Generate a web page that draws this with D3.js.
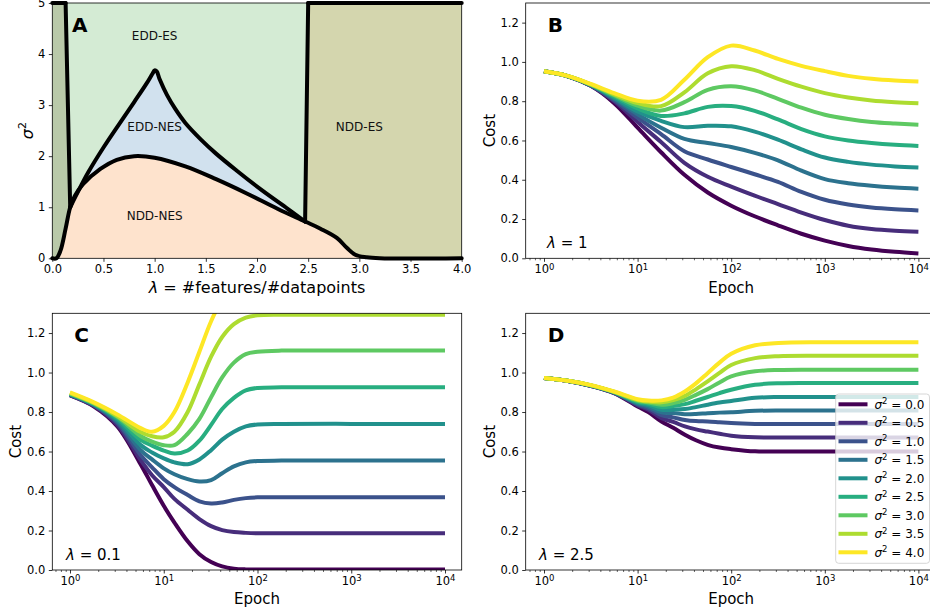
<!DOCTYPE html>
<html>
<head>
<meta charset="utf-8">
<script src="https://cdn.jsdelivr.net/npm/d3@7"></script>
<style>
  body { margin: 0; background: #fff; }
  svg { display: block; }
</style>
</head>
<body>
<svg id="fig" width="930" height="613" font-family="DejaVu Sans, sans-serif"></svg>
<script>
// ---------------- data ----------------
const sigma2 = [0, 0.5, 1, 1.5, 2, 2.5, 3, 3.5, 4];

// panel A: phase boundaries (lambda, sigma^2)
const lowerLam = [0, 0.04, 0.08, 0.13, 0.175, 0.22, 0.3, 0.47, 0.63, 0.8, 1.0, 1.3, 1.6, 1.9, 2.2, 2.47, 2.62, 2.78, 2.88, 2.96, 3.07, 3.2, 4.0];
const lowerSig = [0, 0, 0.15, 0.58, 1.0, 1.22, 1.45, 1.75, 1.93, 2.0, 1.97, 1.8, 1.55, 1.27, 0.97, 0.72, 0.58, 0.4, 0.2, 0.07, 0.02, 0, 0];
const upperLam = [0.175, 0.25, 0.35, 0.5, 0.65, 0.8, 0.92, 0.98, 1.0, 1.02, 1.05, 1.12, 1.2, 1.3, 1.45, 1.6, 1.8, 2.05, 2.3, 2.47];
const upperSig = [1.0, 1.3, 1.68, 2.17, 2.62, 3.06, 3.42, 3.62, 3.68, 3.66, 3.5, 3.2, 2.93, 2.65, 2.33, 2.05, 1.72, 1.33, 0.97, 0.72];
const leftLam = [0.13, 0.175], leftSig = [5, 1.0];
const rightLam = [2.47, 2.5], rightSig = [0.72, 5];
const regionNames = ['EDD-ES', 'EDD-NES', 'NDD-NES', 'NDD-ES'];
const regionLam = [1.0, 1.0, 1.0, 3.0];
const regionSig = [4.35, 2.58, 0.83, 2.58];

// panel B: lambda = 1
const epochsB = [1, 1.78, 3.16, 5.62, 10, 17.8, 31.6, 56.2, 100, 178, 316, 562, 1000, 1780, 3160, 5620, 10000];
const costB = [
  [0.952, 0.927, 0.878, 0.79, 0.665, 0.54, 0.425, 0.335, 0.268, 0.214, 0.168, 0.125, 0.09, 0.063, 0.045, 0.033, 0.025],
  [0.952, 0.928, 0.879, 0.80, 0.694, 0.592, 0.486, 0.415, 0.365, 0.319, 0.276, 0.233, 0.195, 0.166, 0.149, 0.14, 0.135],
  [0.952, 0.928, 0.880, 0.806, 0.716, 0.632, 0.545, 0.503, 0.465, 0.428, 0.389, 0.338, 0.298, 0.274, 0.259, 0.25, 0.244],
  [0.952, 0.928, 0.881, 0.812, 0.733, 0.665, 0.608, 0.587, 0.567, 0.537, 0.499, 0.446, 0.403, 0.382, 0.369, 0.36, 0.354],
  [0.952, 0.928, 0.883, 0.818, 0.748, 0.70, 0.668, 0.675, 0.672, 0.645, 0.604, 0.555, 0.513, 0.491, 0.477, 0.468, 0.462],
  [0.952, 0.928, 0.884, 0.824, 0.763, 0.725, 0.738, 0.771, 0.775, 0.751, 0.707, 0.658, 0.621, 0.60, 0.587, 0.578, 0.572],
  [0.952, 0.929, 0.885, 0.83, 0.777, 0.752, 0.795, 0.858, 0.876, 0.855, 0.812, 0.767, 0.731, 0.709, 0.694, 0.686, 0.68],
  [0.952, 0.929, 0.886, 0.835, 0.79, 0.775, 0.845, 0.942, 0.978, 0.958, 0.914, 0.874, 0.841, 0.819, 0.804, 0.795, 0.789],
  [0.952, 0.929, 0.888, 0.841, 0.802, 0.807, 0.909, 1.024, 1.083, 1.058, 1.015, 0.98, 0.953, 0.929, 0.914, 0.905, 0.90]
];

// panel C: lambda = 0.1
const epochsC = [1, 1.8, 3.2, 5.6, 7.5, 10, 13, 18, 24, 32, 42, 56, 75, 100, 180, 1000, 10000];
const costC = [
  [0.884, 0.828, 0.727, 0.54, 0.43, 0.325, 0.24, 0.145, 0.08, 0.04, 0.018, 0.007, 0.003, 0.002, 0.002, 0.002, 0.002],
  [0.886, 0.831, 0.735, 0.56, 0.48, 0.42, 0.36, 0.305, 0.258, 0.222, 0.202, 0.192, 0.188, 0.186, 0.186, 0.186, 0.186],
  [0.887, 0.834, 0.745, 0.585, 0.52, 0.46, 0.42, 0.38, 0.348, 0.337, 0.342, 0.355, 0.364, 0.368, 0.369, 0.369, 0.369],
  [0.888, 0.836, 0.752, 0.61, 0.56, 0.515, 0.485, 0.46, 0.448, 0.455, 0.49, 0.525, 0.545, 0.552, 0.554, 0.554, 0.554],
  [0.89, 0.839, 0.76, 0.635, 0.595, 0.565, 0.545, 0.536, 0.56, 0.607, 0.66, 0.70, 0.727, 0.737, 0.74, 0.74, 0.74],
  [0.892, 0.841, 0.768, 0.66, 0.63, 0.605, 0.59, 0.605, 0.655, 0.735, 0.815, 0.872, 0.91, 0.922, 0.925, 0.925, 0.925],
  [0.894, 0.843, 0.775, 0.68, 0.65, 0.632, 0.632, 0.69, 0.765, 0.875, 0.975, 1.05, 1.093, 1.105, 1.111, 1.111, 1.111],
  [0.896, 0.846, 0.78, 0.70, 0.677, 0.672, 0.70, 0.80, 0.94, 1.08, 1.18, 1.245, 1.278, 1.29, 1.293, 1.293, 1.293],
  [0.899, 0.849, 0.788, 0.72, 0.70, 0.73, 0.80, 0.95, 1.105, 1.26, 1.37, 1.44, 1.47, 1.48, 1.48, 1.48, 1.48]
];

// panel D: lambda = 2.5
const epochsD = [1, 1.8, 3.2, 5.6, 10, 13, 18, 24, 32, 42, 56, 75, 100, 180, 320, 1000, 10000];
const costD = [
  [0.972, 0.957, 0.932, 0.896, 0.828, 0.80, 0.752, 0.72, 0.685, 0.657, 0.634, 0.62, 0.612, 0.601, 0.60, 0.60, 0.60],
  [0.972, 0.957, 0.932, 0.897, 0.834, 0.812, 0.769, 0.75, 0.727, 0.712, 0.701, 0.69, 0.68, 0.672, 0.671, 0.671, 0.671],
  [0.972, 0.957, 0.933, 0.898, 0.839, 0.82, 0.784, 0.773, 0.76, 0.754, 0.752, 0.748, 0.744, 0.74, 0.739, 0.739, 0.739],
  [0.972, 0.957, 0.933, 0.899, 0.843, 0.828, 0.798, 0.795, 0.789, 0.79, 0.794, 0.797, 0.799, 0.806, 0.808, 0.808, 0.808],
  [0.972, 0.958, 0.934, 0.90, 0.848, 0.835, 0.811, 0.812, 0.815, 0.825, 0.837, 0.848, 0.856, 0.872, 0.876, 0.876, 0.876],
  [0.972, 0.958, 0.934, 0.901, 0.852, 0.842, 0.825, 0.83, 0.84, 0.857, 0.876, 0.896, 0.913, 0.938, 0.946, 0.947, 0.947],
  [0.972, 0.958, 0.935, 0.902, 0.857, 0.848, 0.837, 0.845, 0.862, 0.887, 0.916, 0.95, 0.98, 1.006, 1.013, 1.014, 1.014],
  [0.972, 0.958, 0.935, 0.903, 0.861, 0.853, 0.849, 0.86, 0.882, 0.915, 0.955, 0.998, 1.038, 1.073, 1.083, 1.085, 1.085],
  [0.972, 0.958, 0.936, 0.904, 0.865, 0.858, 0.859, 0.873, 0.904, 0.945, 0.997, 1.05, 1.095, 1.138, 1.15, 1.153, 1.153]
];

const decades = [1, 10, 100, 1000, 10000];
const costTicks = [0, 0.2, 0.4, 0.6, 0.8, 1.0, 1.2];
const lamTicks = [0, 0.5, 1, 1.5, 2, 2.5, 3, 3.5, 4];
const sigTicks = [0, 1, 2, 3, 4, 5];

// ---------------- layout ----------------
const svg = d3.select('#fig');
const boxAC = { left: 52.3, right: 461.7 };
const boxBD = { left: 525.7, right: 936.6 };
const rowTop = { top: 3, bottom: 258.3 };
const rowBot = { top: 313.3, bottom: 570 };
const colors = sigma2.map((s, i) => d3.interpolateViridis(i / (sigma2.length - 1)));
const smooth = d3.curveCatmullRom.alpha(0.5);
const tickFont = 11.5;

function styleAxis(g) {
  g.attr('font-family', null).attr('font-size', null);
  g.select('.domain').remove();
  g.selectAll('.tick line').attr('stroke', '#000').attr('stroke-width', 0.8);
  g.selectAll('.tick text').attr('fill', '#000').attr('font-size', tickFont);
}

function spines(box, row) {
  svg.append('rect')
    .attr('x', box.left).attr('y', row.top)
    .attr('width', box.right - box.left).attr('height', row.bottom - row.top)
    .attr('fill', 'none').attr('stroke', '#000').attr('stroke-width', 0.8);
}

function panelLetter(txt, x, y) {
  svg.append('text').attr('x', x).attr('y', y)
    .attr('font-size', 20).attr('font-weight', 'bold').text(txt);
}

// ---------------- panel A ----------------
(function drawPhase() {
  const x = d3.scaleLinear().domain([0, 4]).range([boxAC.left, boxAC.right]);
  const y = d3.scaleLinear().domain([0, 5]).range([rowTop.bottom, rowTop.top]);

  svg.append('clipPath').attr('id', 'clipA').append('rect')
    .attr('x', boxAC.left).attr('y', rowTop.top)
    .attr('width', boxAC.right - boxAC.left).attr('height', rowTop.bottom - rowTop.top);
  const g = svg.append('g');
  const fills = g.append('g').attr('clip-path', 'url(#clipA)');

  const lower = lowerLam.map((l, i) => [l, lowerSig[i]]);
  const upper = upperLam.map((l, i) => [l, upperSig[i]]);
  const lineGen = d3.line().x(d => x(d[0])).y(d => y(d[1])).curve(smooth);
  const areaGen = d3.area().x(d => x(d[0])).y0(y(0)).y1(d => y(d[1])).curve(smooth);
  const straight = d3.line().x(d => x(d[0])).y(d => y(d[1]));
  const poly = pts => straight(pts) + 'Z';

  // EDD-ES background
  fills.append('path').attr('d', poly([[0, 0], [4, 0], [4, 5], [0, 5]])).attr('fill', '#d4ebd4');
  // strip left of the left boundary
  fills.append('path').attr('d', poly([[0, 0], [leftLam[1], 0], [leftLam[1], leftSig[1]], [leftLam[0], leftSig[0]], [0, 5]]))
    .attr('fill', '#b9c9a9');
  // NDD-ES
  fills.append('path').attr('d', poly([[rightLam[0], 0], [rightLam[0], rightSig[0]], [rightLam[1], rightSig[1]], [4, 5], [4, 0]]))
    .attr('fill', '#d4d6ae');
  // EDD-NES
  fills.append('path').attr('d', areaGen(upper)).attr('fill', '#d1e1ee');
  // NDD-NES
  fills.append('path').attr('d', areaGen(lower)).attr('fill', '#fee3cd');

  // boundaries
  const add = d => g.append('path').attr('d', d)
    .attr('fill', 'none').attr('stroke', '#000').attr('stroke-width', 4)
    .attr('stroke-linejoin', 'round').attr('stroke-linecap', 'round');
  add(lineGen(lower));
  add(lineGen(upper));
  add(straight(leftLam.map((l, i) => [l, leftSig[i]])));
  add(straight(rightLam.map((l, i) => [l, rightSig[i]])));
  add(straight([[0, 5], [leftLam[0], 5]]));
  add(straight([[rightLam[1], 5], [4, 5]]));

  regionNames.forEach((n, i) => {
    g.append('text').attr('x', x(regionLam[i])).attr('y', y(regionSig[i]))
      .attr('text-anchor', 'middle').attr('dominant-baseline', 'central')
      .attr('font-size', 12).attr('fill', '#111').text(n);
  });

  const gx = svg.append('g').attr('transform', `translate(0,${rowTop.bottom})`)
    .call(d3.axisBottom(x).tickValues(lamTicks).tickSize(3.5).tickPadding(3.5).tickFormat(d3.format('.1f')));
  styleAxis(gx);
  const gy = svg.append('g').attr('transform', `translate(${boxAC.left},0)`)
    .call(d3.axisLeft(y).tickValues(sigTicks).tickSize(3.5).tickPadding(3.5).tickFormat(d3.format('d')));
  styleAxis(gy);

  spines(boxAC, rowTop);
  panelLetter('A', 72, 32);

  const xl = svg.append('text').attr('x', (boxAC.left + boxAC.right) / 2).attr('y', 292.5)
    .attr('text-anchor', 'middle').attr('font-size', 16);
  xl.append('tspan').attr('font-style', 'italic').text('λ');
  xl.append('tspan').text(' = #features/#datapoints');

  const yl = svg.append('text').attr('transform', `translate(33,${(rowTop.top + rowTop.bottom) / 2}) rotate(-90)`)
    .attr('text-anchor', 'middle').attr('font-size', 16);
  yl.append('tspan').attr('font-style', 'italic').text('σ');
  yl.append('tspan').attr('font-size', 11).attr('dy', '-0.6em').text('2');
})();

// ---------------- cost panels ----------------
function costPanel(id, box, row, epochs, costs, letter, lamText, lamX) {
  const x = d3.scaleLog().domain([1, 1e4])
    .range(box === boxAC ? [70, 445] : [544, 918.4]);
  const y = d3.scaleLinear().domain([0, 1.3]).range([row.bottom, row.top]);

  const clipId = 'clip' + id;
  svg.append('clipPath').attr('id', clipId).append('rect')
    .attr('x', box.left).attr('y', row.top)
    .attr('width', box.right - box.left).attr('height', row.bottom - row.top);

  const line = d3.line().x(d => x(d[0])).y(d => y(d[1])).curve(smooth);
  const g = svg.append('g').attr('clip-path', `url(#${clipId})`);
  g.selectAll('path').data(costs).join('path')
    .attr('d', c => line(epochs.map((e, i) => [e, c[i]])))
    .attr('fill', 'none').attr('stroke', (c, i) => colors[i])
    .attr('stroke-width', 4).attr('stroke-linecap', 'butt').attr('stroke-linejoin', 'round');

  // minor ticks
  const minors = [];
  for (let k = -1; k <= 4; k++) {
    for (let m = 2; m <= 9; m++) {
      const v = m * Math.pow(10, k);
      if (x(v) >= box.left && x(v) <= box.right) minors.push(v);
    }
  }
  const gm = svg.append('g').attr('transform', `translate(0,${row.bottom})`)
    .call(d3.axisBottom(x).tickValues(minors).tickSize(2).tickFormat(''));
  styleAxis(gm);
  gm.selectAll('.tick line').attr('stroke-width', 0.6);

  const gx = svg.append('g').attr('transform', `translate(0,${row.bottom})`)
    .call(d3.axisBottom(x).tickValues(decades).tickSize(3.5).tickPadding(3.5).tickFormat(() => ''));
  styleAxis(gx);
  gx.selectAll('.tick text').each(function (d) {
    const t = d3.select(this);
    t.append('tspan').text('10');
    t.append('tspan').attr('font-size', 8.5).attr('dy', -3.8).text(Math.round(Math.log10(d)));
  });

  const gy = svg.append('g').attr('transform', `translate(${box.left},0)`)
    .call(d3.axisLeft(y).tickValues(costTicks).tickSize(3.5).tickPadding(3.5).tickFormat(d3.format('.1f')));
  styleAxis(gy);

  spines(box, row);
  panelLetter(letter, box.left + 22, row.top + 29);

  const lt = svg.append('text').attr('x', lamX).attr('y', row.bottom - 10).attr('font-size', 15);
  lt.append('tspan').attr('font-style', 'italic').text('λ');
  lt.append('tspan').text(' = ' + lamText);

  svg.append('text').attr('x', (box.left + box.right) / 2).attr('y', row.bottom + 34.3)
    .attr('text-anchor', 'middle').attr('font-size', 15).text('Epoch');
  svg.append('text')
    .attr('transform', `translate(${box.left - 31},${(row.top + row.bottom) / 2}) rotate(-90)`)
    .attr('text-anchor', 'middle').attr('font-size', 15).text('Cost');
}

costPanel('B', boxBD, rowTop, epochsB, costB, 'B', '1', 547);
costPanel('C', boxAC, rowBot, epochsC, costC, 'C', '0.1', 66);
costPanel('D', boxBD, rowBot, epochsD, costD, 'D', '2.5', 539);

// ---------------- legend (panel D) ----------------
(function legend() {
  const lx = 835.7, ly = 394, lw = 93.8, lh = 169.3;
  const g = svg.append('g');
  g.append('rect').attr('x', lx).attr('y', ly).attr('width', lw).attr('height', lh)
    .attr('rx', 3).attr('fill', '#fff').attr('fill-opacity', 0.8)
    .attr('stroke', '#cccccc').attr('stroke-width', 0.8);
  sigma2.forEach((s, i) => {
    const yy = 404.3 + i * 18.5;
    g.append('line').attr('x1', 838.5).attr('x2', 867.5).attr('y1', yy).attr('y2', yy)
      .attr('stroke', colors[i]).attr('stroke-width', 4);
    const t = g.append('text').attr('x', 874.5).attr('y', yy + 4.3).attr('font-size', 12);
    t.append('tspan').attr('font-style', 'italic').text('σ');
    t.append('tspan').attr('font-size', 8.5).attr('dy', -4.5).text('2');
    t.append('tspan').attr('dy', 4.5).text(' = ' + s.toFixed(1));
  });
})();
</script>
</body>
</html>
